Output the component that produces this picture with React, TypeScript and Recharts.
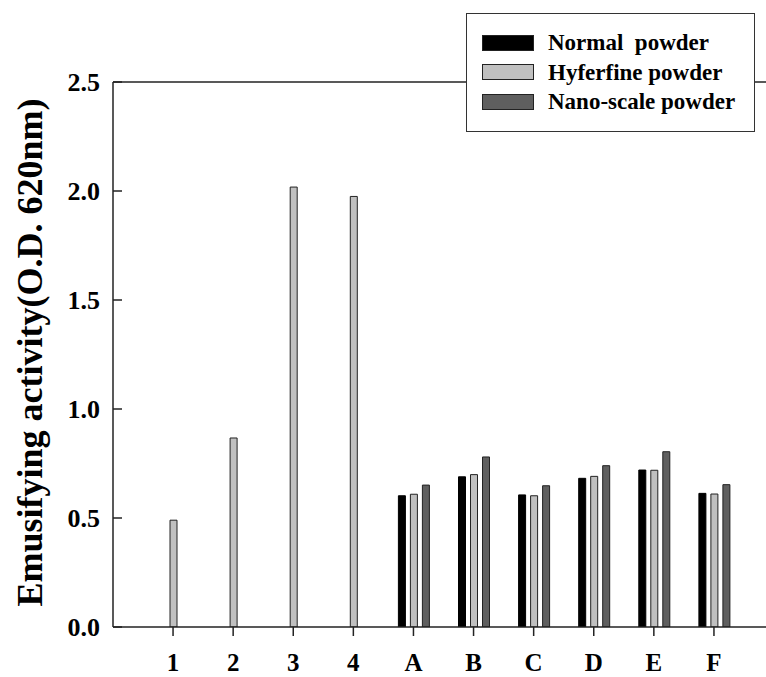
import React from 'react';
import { BarChart, Bar, XAxis, YAxis, ReferenceLine, Legend } from 'recharts';

const categories = ['1', '2', '3', '4', 'A', 'B', 'C', 'D', 'E', 'F'];
const normalPowder: (number | null)[] = [null, null, null, null, 0.602, 0.689, 0.606, 0.682, 0.72, 0.613];
const hyferfinePowder: (number | null)[] = [0.49, 0.867, 2.018, 1.975, 0.609, 0.699, 0.602, 0.691, 0.719, 0.61];
const nanoPowder: (number | null)[] = [null, null, null, null, 0.651, 0.78, 0.648, 0.74, 0.804, 0.653];
const yTicks = [0, 0.5, 1.0, 1.5, 2.0, 2.5];
const seriesNames = ['Normal  powder', 'Hyferfine powder', 'Nano-scale powder'];

const data = categories.map((c, i) => ({
  name: c,
  normal: normalPowder[i],
  hyferfine: hyferfinePowder[i],
  nano: nanoPowder[i],
}));

const FONT = "'Liberation Serif', 'Times New Roman', Times, serif";

const LegendBox = (props: any) => {
  const payload = [...(props.payload || [])].sort(
    (a: any, b: any) => seriesNames.indexOf(a.value) - seriesNames.indexOf(b.value)
  );
  return (
    <div
      style={{
        width: 289,
        height: 119,
        border: '1.5px solid #333',
        background: '#fff',
        boxSizing: 'border-box',
        paddingTop: 14,
        paddingLeft: 15,
      }}
    >
      {payload.map((p: any) => (
        <div key={p.value} style={{ display: 'flex', alignItems: 'center', height: 29.5 }}>
          <div
            style={{
              width: 52,
              height: 16,
              background: p.color,
              border: '1px solid #222',
              boxSizing: 'border-box',
              marginRight: 14,
              flex: 'none',
            }}
          />
          <span
            style={{
              color: '#000',
              lineHeight: '23px',
              fontFamily: FONT,
              fontWeight: 700,
              fontSize: 23,
              whiteSpace: 'pre',
            }}
          >
            {p.value}
          </span>
        </div>
      ))}
    </div>
  );
};

const YLabel = (props: any) => {
  const vb = props.viewBox || {};
  const cy = vb.y + vb.height / 2 - 2;
  const cx = 30;
  return (
    <text
      x={cx}
      y={cy}
      transform={`rotate(-90, ${cx}, ${cy})`}
      textAnchor="middle"
      dominantBaseline="central"
      style={{ fontFamily: FONT, fontWeight: 700, fontSize: 36 }}
      fill="#000"
    >
      Emusifying activity(O.D. 620nm)
    </text>
  );
};

export default function App() {
  return (
    <div style={{ position: 'absolute', left: 0, top: 0, background: '#fff' }}>
      <BarChart
        width={766}
        height={677}
        data={data}
        margin={{ top: 82, right: 0, bottom: 0, left: 0 }}
        barSize={7}
        barGap={5}
      >
        <XAxis
          dataKey="name"
          padding={{ left: 30, right: 22 }}
          height={50}
          axisLine={{ stroke: '#222', strokeWidth: 1.5 }}
          tickLine={{ stroke: '#222', strokeWidth: 1.5 }}
          tickSize={9}
          tickMargin={17}
          tick={{ fill: '#000', fontFamily: FONT, fontWeight: 700, fontSize: 25 }}
          interval={0}
        />
        <YAxis
          width={113}
          domain={[0, 2.5]}
          ticks={yTicks}
          tickFormatter={(v: number) => v.toFixed(1)}
          axisLine={{ stroke: '#222', strokeWidth: 1.5 }}
          tickLine={{ stroke: '#222', strokeWidth: 1.5 }}
          tickSize={-9}
          tickMargin={22}
          tick={{ fill: '#000', fontFamily: FONT, fontWeight: 700, fontSize: 26 }}
          allowDataOverflow
          label={<YLabel />}
        />
        <ReferenceLine y={2.5} stroke="#222" strokeWidth={1.5} />
        <Legend
          layout="horizontal"
          verticalAlign="middle"
          align="center"
          content={<LegendBox />}
          wrapperStyle={{ left: 466, top: 13, width: 289, height: 119 }}
        />
        <Bar dataKey="normal" name={seriesNames[0]} fill="#000000" stroke="#000" strokeWidth={1} isAnimationActive={false} />
        <Bar dataKey="hyferfine" name={seriesNames[1]} fill="#c0c0c0" stroke="#222" strokeWidth={1} isAnimationActive={false} />
        <Bar dataKey="nano" name={seriesNames[2]} fill="#5f5f5f" stroke="#222" strokeWidth={1} isAnimationActive={false} />
      </BarChart>
    </div>
  );
}
